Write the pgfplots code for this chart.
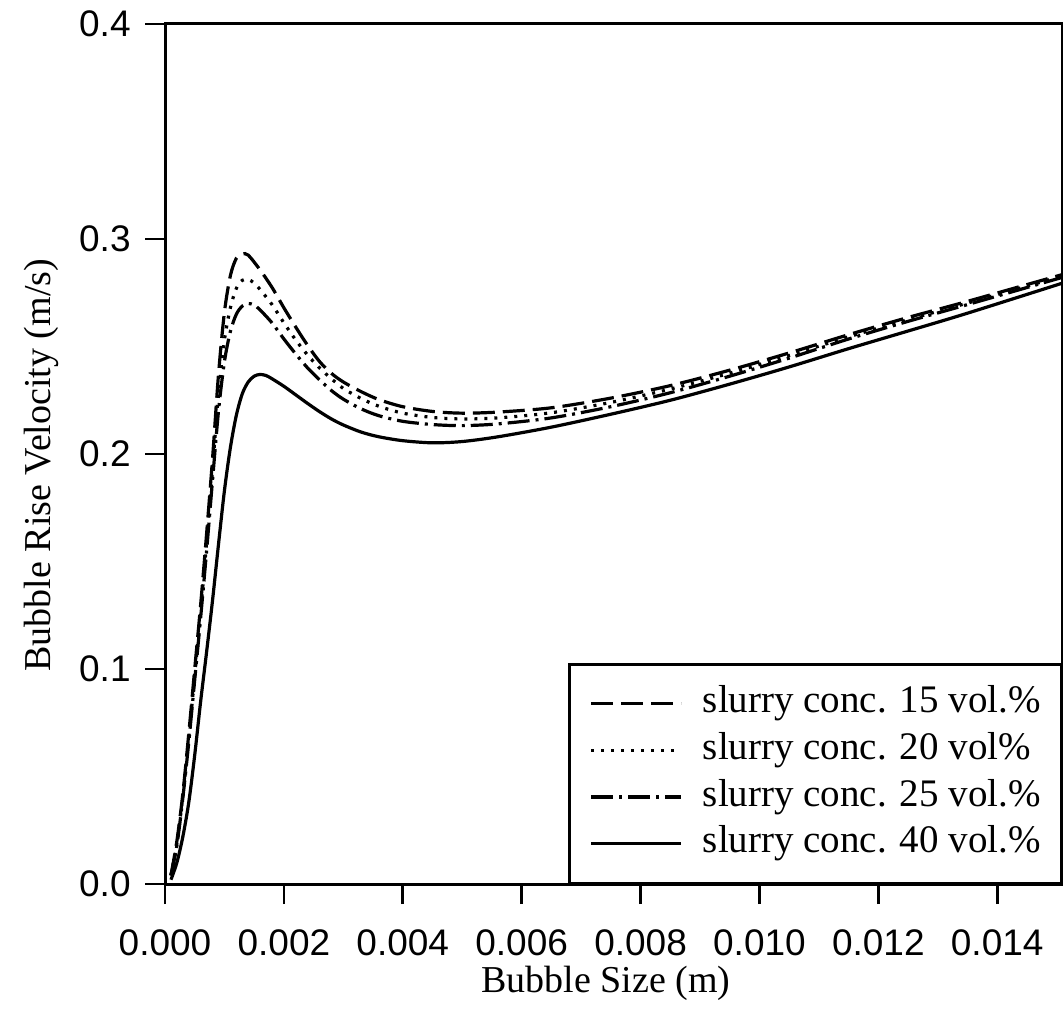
\documentclass[border=0pt]{standalone}
\usepackage{fontspec}
\setmainfont{Liberation Serif}
\newfontfamily\arialfont{Liberation Sans}
\usepackage{pgfplots}
\pgfplotsset{compat=1.18}
\usepackage{pgfplotstable}

\pgfplotstableread{
x y
0.0001 0.004
0.0002 0.020
0.0003 0.042
0.0004 0.070
0.0005 0.100
0.0006 0.130
0.0007 0.163
0.0008 0.198
0.0009 0.237
0.0010 0.266
0.0011 0.283
0.0012 0.291
0.0013 0.2930
0.0014 0.2925
0.0016 0.2856
0.0018 0.2775
0.0020 0.2680
0.0022 0.2590
0.0024 0.2505
0.0026 0.2430
0.0028 0.2375
0.0030 0.2335
0.0033 0.2290
0.0036 0.2253
0.0040 0.2220
0.0045 0.2198
0.0050 0.2190
0.0056 0.2195
0.0065 0.2215
0.0075 0.2260
0.0085 0.2318
0.0095 0.2390
0.0105 0.2470
0.0115 0.2555
0.0125 0.2635
0.0135 0.2710
0.0151 0.2835
}\tabA

\pgfplotstableread{
x y
0.0001 0.004
0.0002 0.019
0.0003 0.041
0.0004 0.068
0.0005 0.097
0.0006 0.127
0.0007 0.159
0.0008 0.193
0.0009 0.228
0.0010 0.253
0.0011 0.268
0.0012 0.277
0.0013 0.2808
0.0014 0.2812
0.0015 0.2795
0.0016 0.2765
0.0018 0.2695
0.0020 0.2610
0.0022 0.2530
0.0024 0.2460
0.0026 0.2400
0.0028 0.2350
0.0030 0.2305
0.0033 0.2258
0.0036 0.2222
0.0040 0.2190
0.0045 0.2170
0.0050 0.2163
0.0056 0.2168
0.0065 0.2192
0.0075 0.2240
0.0085 0.2302
0.0095 0.2376
0.0105 0.2458
0.0115 0.2545
0.0125 0.2625
0.0135 0.2702
0.0151 0.2828
}\tabB

\pgfplotstableread{
x y
0.0001 0.004
0.0002 0.018
0.0003 0.040
0.0004 0.066
0.0005 0.095
0.0006 0.124
0.0007 0.155
0.0008 0.188
0.0009 0.220
0.0010 0.243
0.0011 0.257
0.0012 0.265
0.0013 0.2688
0.0014 0.2700
0.0015 0.2693
0.0016 0.2670
0.0018 0.2610
0.0020 0.2535
0.0022 0.2465
0.0024 0.2400
0.0026 0.2345
0.0028 0.2295
0.0030 0.2255
0.0033 0.2210
0.0036 0.2178
0.0040 0.2152
0.0045 0.2137
0.0050 0.2132
0.0056 0.2140
0.0065 0.2168
0.0075 0.2220
0.0085 0.2285
0.0095 0.2362
0.0105 0.2446
0.0115 0.2535
0.0125 0.2617
0.0135 0.2695
0.0151 0.2822
}\tabC

\pgfplotstableread{
x y
0.0001 0.002
0.0002 0.010
0.0003 0.022
0.0004 0.038
0.0005 0.060
0.0006 0.085
0.0007 0.108
0.0008 0.132
0.0009 0.158
0.0010 0.183
0.0011 0.203
0.0012 0.218
0.0013 0.228
0.0014 0.2335
0.0015 0.2362
0.0016 0.2370
0.0017 0.2365
0.0018 0.2350
0.0020 0.2315
0.0022 0.2275
0.0024 0.2235
0.0026 0.2197
0.0028 0.2163
0.0030 0.2135
0.0033 0.2102
0.0036 0.2080
0.0040 0.2062
0.0045 0.2052
0.0050 0.2058
0.0056 0.2080
0.0065 0.2125
0.0075 0.2185
0.0085 0.2250
0.0095 0.2325
0.0105 0.2405
0.0115 0.2490
0.0125 0.2572
0.0135 0.2655
0.0151 0.2795
}\tabD

\begin{document}
\begin{tikzpicture}
\path[use as bounding box] (0,0) rectangle (531.5pt,517.5pt);
\begin{axis}[
  at={(82.5pt,75.5pt)}, anchor=south west,
  width=448.5pt, height=430pt, scale only axis,
  xmin=0, xmax=0.01509, ymin=0, ymax=0.4,
  xtick={0,0.002,0.004,0.006,0.008,0.010,0.012,0.014},
  ytick={0,0.1,0.2,0.3,0.4},
  scaled x ticks=false, scaled y ticks=false,
  xticklabel style={/pgf/number format/.cd, fixed, fixed zerofill, precision=3},
  yticklabel style={/pgf/number format/.cd, fixed, fixed zerofill, precision=1},
  tick label style={font=\arialfont\fontsize{18.5}{20}\selectfont, inner sep=2pt},
  /pgf/number format/assume math mode=true,
  xticklabel shift=10.5pt,
  yticklabel shift=5pt,
  tick align=outside, xtick pos=bottom, ytick pos=left,
  major tick length=10pt,
  axis line style={line width=1.5pt},
  every tick/.style={black, line width=1.3pt},
  xlabel={Bubble Size (m)},
  ylabel={Bubble Rise Velocity (m/s)},
  label style={font=\fontsize{19}{22}\selectfont, inner sep=1pt},
  xlabel style={at={(axis description cs:0.4916,-0.1256)}, anchor=base},
  ylabel style={at={(axis description cs:-0.128,0.487)}, anchor=base},
  legend style={at={(1,0)}, anchor=south east, draw=black, line width=1.2pt,
    font=\fontsize{19.5}{23}\selectfont, inner xsep=10pt, inner ysep=8pt,
    row sep=0pt, cells={anchor=west},
    nodes={inner xsep=0pt, inner ysep=2.75pt, text height=13.5pt, text depth=4.3pt},
    /tikz/every odd column/.append style={column sep=10pt}},
  legend image code/.code={\draw[#1] (0pt,0pt) -- (45pt,0pt);},
]
\addplot[black, line width=1.6pt, smooth, dash pattern=on 11pt off 4pt] table {\tabA};
\addlegendentry{slurry conc. 15 vol.\%}
\addplot[black, line width=1.6pt, smooth, dash pattern=on 1.5pt off 3.5pt] table {\tabB};
\addlegendentry{slurry conc. 20 vol\%}
\addplot[black, line width=1.6pt, smooth, dash pattern=on 11pt off 3pt on 1.5pt off 3pt] table {\tabC};
\addlegendentry{slurry conc. 25 vol.\%}
\addplot[black, line width=1.6pt, smooth] table {\tabD};
\addlegendentry{slurry conc. 40 vol.\%}
\end{axis}
\end{tikzpicture}
\end{document}
